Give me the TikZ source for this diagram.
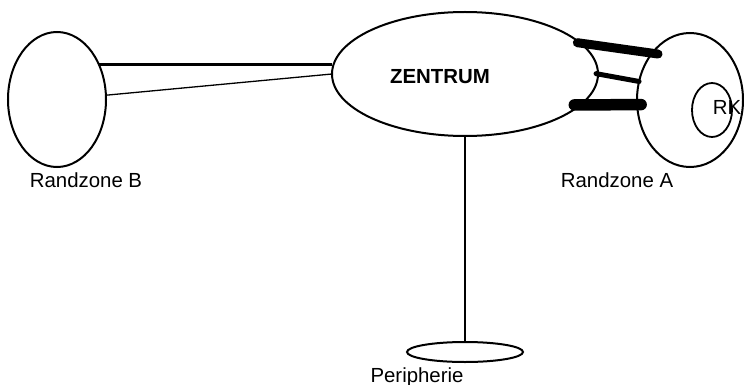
\documentclass[tikz,border=0pt]{standalone}
\usepackage{fontspec}
\setmainfont{Liberation Sans}
\usetikzlibrary{shapes.geometric,calc}

\begin{document}
\begin{tikzpicture}[x=1pt,y=-1pt,font=\fontsize{20.4}{24}\selectfont]
            \tikzstyle{zone}=[ellipse, draw, line width=2pt, inner sep=0pt, outer sep=0pt]
            \tikzstyle{bar}=[line width=#1, line cap=round]
            \tikzstyle{lbl}=[anchor=base, inner sep=0pt]
            \useasboundingbox (0,0) rectangle (744,385);
            \node[zone, minimum width=98pt, minimum height=135pt] (randB) at (57,99.5) {};
            \node[zone, minimum width=266pt, minimum height=124pt] (zentrum) at (465,74) {};
            \node[zone, minimum width=106pt, minimum height=134pt] (randA) at (690,100) {};
            \node[zone, line width=1.8pt, minimum width=40pt, minimum height=54pt] (rk) at (712,110) {};
            \node[zone, minimum width=116pt, minimum height=20pt] (peri) at (465,352) {};
            \node[lbl, font=\fontsize{20.4}{24}\bfseries] (tz) at (440,84) {ZENTRUM};
            \node[lbl] (tb) at (86,187) {Randzone B};
            \node[lbl] (ta) at (617,187) {Randzone A};
            \node[lbl] (tp) at (417,382) {Peripherie};
            \node[lbl] (trk) at (727,115) {RK};
            \path
            (randB.40) edge [line width=3pt] (randB.40 -| zentrum.west)
            (randB.5) edge [line width=1.3pt] (zentrum.west)
            (zentrum.south) edge [line width=2.5pt] (peri.north)
            (zentrum.15) edge [bar=9pt, shorten <=-3pt, shorten >=-6pt] (randA.129)
            (zentrum.east) edge [bar=5pt, shorten <=-2pt] (randA.160)
            (zentrum.-15) edge [bar=11.5pt, shorten <=-6pt, shorten >=-4pt] (randA.185);
        \end{tikzpicture}
\end{document}
